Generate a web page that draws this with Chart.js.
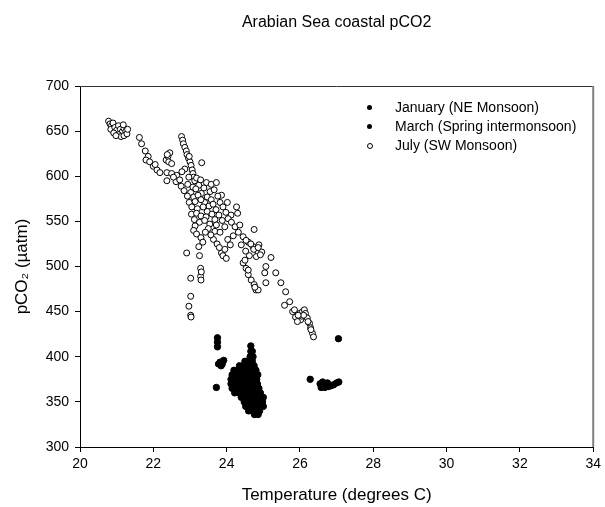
<!DOCTYPE html>
<html>
<head>
<meta charset="utf-8">
<script src="https://cdn.jsdelivr.net/npm/chart.js@4"></script>
<style>
  body { margin: 0; background: #fff; }
  #wrap { position: relative; width: 605px; height: 507px; }
  .legend { position: absolute; left: 365px; top: 98px; font: 14px "Liberation Sans", Arial, sans-serif; color: #000; }
  .legend div { position: relative; height: 19px; line-height: 19px; padding-left: 30px; white-space: nowrap; }
  .dot { position: absolute; left: 2px; top: 7px; width: 5px; height: 5px; border-radius: 50%; background: #000; }
  .dot.open { background: #fff; border: 1px solid #000; width: 4px; height: 4px; }
</style>
</head>
<body>
<div id="wrap">
  <canvas id="chart" width="605" height="507"></canvas>
  <div class="legend">
    <div><span class="dot"></span>January (NE Monsoon)</div>
    <div><span class="dot"></span>March (Spring intermonsoon)</div>
    <div><span class="dot open"></span>July (SW Monsoon)</div>
  </div>
</div>
<script>
const chartTitle = 'Arabian Sea coastal pCO2';

// [temperature, pCO2]
const januaryPoints = [
  [23.75, 421], [23.75, 416], [23.75, 411],
  [23.82, 394], [23.88, 392], [23.92, 396], [23.85, 390], [23.78, 392],
  [23.72, 366],
  [24.66, 412], [24.66, 406], [24.7, 406], [24.64, 400], [24.72, 400],
  [24.5, 395], [24.6, 395], [24.7, 395],
  [24.35, 390], [24.45, 390], [24.55, 390], [24.65, 390], [24.75, 390],
  [24.2, 385], [24.3, 385], [24.4, 385], [24.5, 385], [24.6, 385], [24.7, 385], [24.8, 385],
  [24.15, 380], [24.25, 380], [24.35, 380], [24.45, 380], [24.55, 380], [24.65, 380], [24.75, 380], [24.85, 380],
  [24.12, 375], [24.22, 375], [24.32, 375], [24.42, 375], [24.52, 375], [24.62, 375], [24.72, 375], [24.82, 375],
  [24.12, 370], [24.22, 370], [24.32, 370], [24.42, 370], [24.52, 370], [24.62, 370], [24.72, 370], [24.84, 370],
  [24.15, 365], [24.25, 365], [24.35, 365], [24.45, 365], [24.55, 365], [24.65, 365], [24.75, 365], [24.88, 365],
  [24.22, 360], [24.32, 360], [24.42, 360], [24.52, 360], [24.62, 360], [24.72, 360], [24.82, 360], [24.92, 360],
  [24.4, 355], [24.5, 355], [24.6, 355], [24.7, 355], [24.8, 355], [24.9, 355], [25.0, 355],
  [24.48, 350], [24.58, 350], [24.68, 350], [24.78, 350], [24.88, 350], [24.98, 350],
  [24.52, 345], [24.62, 345], [24.72, 345], [24.82, 345], [24.92, 345], [25.0, 345],
  [24.6, 340], [24.7, 340], [24.8, 340], [24.9, 340],
  [24.76, 336], [24.86, 336]
];

const marchPoints = [
  [27.05, 420], [26.28, 375],
  [26.55, 370], [26.6, 367], [26.62, 372], [26.68, 366], [26.72, 369], [26.78, 367],
  [26.85, 368], [26.92, 369], [27.0, 371], [27.06, 372], [26.58, 366], [26.75, 371]
];

const julyPoints = [
  // top-left cluster
  [20.78, 661], [20.82, 658], [20.86, 656], [20.9, 659], [20.84, 652], [20.95, 654],
  [21.0, 651], [20.92, 648], [21.05, 656], [21.1, 652], [21.15, 649], [21.2, 653],
  [21.25, 650], [21.05, 646], [21.12, 644], [21.2, 645], [21.28, 647], [21.18, 657],
  [20.98, 645], [21.3, 652],
  [21.62, 643], [21.68, 636],
  [21.78, 628], [21.86, 622], [21.8, 618], [21.9, 616], [22.0, 611], [22.1, 607],
  [22.18, 604], [22.05, 613],
  [22.35, 618], [22.4, 622], [22.45, 626], [22.42, 616], [22.5, 614], [22.38, 624],
  // steep line
  [22.77, 644], [22.8, 640], [22.82, 636], [22.86, 632], [22.9, 628], [22.92, 624],
  [22.96, 620], [23.0, 616], [23.03, 612], [23.06, 607], [23.08, 603], [23.1, 599],
  [23.13, 595], [22.98, 622], [23.32, 615], [22.86, 608],
  // band
  [22.37, 604], [22.5, 603], [22.64, 601], [22.78, 605], [22.97, 599], [23.18, 598],
  [23.29, 596], [23.45, 593], [22.37, 595], [22.62, 594], [22.55, 599], [22.72, 596],
  [23.58, 591], [23.72, 593], [23.86, 579], [24.02, 571], [24.27, 566],
  [22.76, 589], [22.94, 591], [23.08, 588], [23.24, 590], [23.38, 587], [23.55, 583],
  [22.84, 584], [23.02, 582], [23.16, 586], [23.31, 581], [23.47, 577], [23.66, 585],
  [22.93, 578], [23.1, 577], [23.22, 579], [23.4, 571], [23.58, 574], [23.76, 578],
  [22.98, 571], [23.14, 572], [23.3, 574], [23.52, 567], [23.63, 569], [23.82, 571],
  [23.05, 566], [23.2, 564], [23.36, 566], [23.47, 561], [23.71, 563], [23.9, 566],
  [23.04, 558], [23.18, 559], [23.3, 556], [23.44, 555], [23.6, 558], [23.79, 557], [23.98, 560], [24.12, 557],
  [23.12, 552], [23.26, 549], [23.4, 551], [23.54, 547], [23.68, 552], [23.88, 551], [24.04, 553],
  [23.14, 545], [23.5, 542], [23.72, 546], [23.95, 544], [24.3, 559], [23.68, 539],
  // left branch
  [23.1, 540], [23.18, 536], [23.3, 532], [23.42, 538], [23.24, 522],
  [23.35, 527], [22.91, 515], [23.64, 530], [23.57, 535], [23.74, 525], [23.82, 538],
  [23.86, 515], [23.9, 512], [23.99, 509], [23.95, 519], [23.8, 521], [23.26, 512],
  // right branch
  [24.13, 549], [24.23, 544], [24.32, 538], [24.45, 533], [24.59, 527], [24.72, 522],
  [24.86, 516], [24.81, 511], [24.36, 546], [24.75, 541], [24.53, 529], [24.66, 525],
  [24.74, 519], [24.88, 524], [24.96, 516], [25.21, 510], [24.18, 534], [24.4, 524],
  [24.52, 517], [24.62, 512], [24.03, 530], [24.1, 524], [24.86, 521], [24.92, 513],
  // lower right
  [24.45, 504], [24.53, 498], [24.59, 491], [24.67, 485], [24.75, 480], [24.8, 474],
  [24.86, 474], [25.04, 493], [25.07, 500], [25.07, 482], [24.5, 507], [24.59, 496],
  [24.77, 477], [25.34, 493], [25.48, 482], [25.61, 472], [25.72, 461], [25.58, 457],
  // column near 23
  [23.29, 498], [23.29, 489], [23.3, 485], [23.02, 487], [23.02, 467], [22.97, 456],
  [23.02, 446], [23.03, 444], [23.31, 494],
  // bottom cluster
  [25.8, 450], [25.88, 444], [25.99, 448], [26.07, 450], [26.12, 452], [26.15, 448],
  [26.2, 443], [26.26, 437], [26.29, 432], [26.34, 426], [26.37, 422], [26.02, 441],
  [25.93, 439], [25.85, 452], [26.05, 445], [26.22, 439], [26.3, 430], [26.1, 446], [25.95, 446]
];

const xRange = [20, 34];
const yRange = [300, 700];

const toXY = pts => pts.map(p => ({ x: p[0], y: p[1] }));

// frame on top and right of the plot, title centred over the plot
const framePlugin = {
  id: 'frame',
  afterDraw(chart) {
    const { ctx, chartArea: a } = chart;
    ctx.save();
    ctx.strokeStyle = '#333';
    ctx.lineWidth = 1;
    ctx.beginPath();
    ctx.moveTo(a.left, a.top + 0.5);
    ctx.lineTo(a.right, a.top + 0.5);
    ctx.stroke();
    ctx.strokeStyle = '#808080';
    ctx.lineWidth = 2;
    ctx.beginPath();
    ctx.moveTo(a.right, a.top);
    ctx.lineTo(a.right, a.bottom);
    ctx.stroke();

    ctx.fillStyle = '#000';
    ctx.font = '16px "Liberation Sans", Arial, sans-serif';
    ctx.textAlign = 'center';
    ctx.textBaseline = 'middle';
    ctx.fillText(chartTitle, (a.left + a.right) / 2, 23);
    ctx.restore();
  }
};

Chart.defaults.font.family = '"Liberation Sans", Arial, sans-serif';
Chart.defaults.color = '#000';

new Chart(document.getElementById('chart'), {
  type: 'scatter',
  data: {
    datasets: [
      { label: 'January (NE Monsoon)', data: toXY(januaryPoints), pointRadius: 3.2, backgroundColor: '#000', borderColor: '#000', borderWidth: 1 },
      { label: 'March (Spring intermonsoon)', data: toXY(marchPoints), pointRadius: 3.2, backgroundColor: '#000', borderColor: '#000', borderWidth: 1 },
      { label: 'July (SW Monsoon)', data: toXY(julyPoints), pointRadius: 3, backgroundColor: '#fff', borderColor: '#000', borderWidth: 1 }
    ]
  },
  options: {
    responsive: false,
    animation: false,
    events: [],
    layout: { padding: { top: 86 } },
    plugins: {
      legend: { display: false },
      tooltip: { enabled: false },
      title: { display: false }
    },
    scales: {
      x: {
        type: 'linear',
        min: xRange[0], max: xRange[1],
        ticks: { stepSize: 2, font: { size: 14 }, padding: 4 },
        grid: { drawOnChartArea: false, tickLength: 5, color: '#000' },
        border: { color: '#000' },
        title: { display: true, text: 'Temperature (degrees C)', font: { size: 17 }, padding: { top: 0, bottom: 1 } },
        afterFit: s => { s.height = 60; }
      },
      y: {
        min: yRange[0], max: yRange[1],
        ticks: { stepSize: 50, font: { size: 14 }, padding: 6 },
        grid: { drawOnChartArea: false, tickLength: 5, color: '#000' },
        border: { color: '#000' },
        title: { display: true, text: 'pCO₂ (µatm)', font: { size: 17 }, padding: { top: 12, bottom: 0 } },
        afterFit: s => { s.width = 80; }
      }
    }
  },
  plugins: [framePlugin]
});
</script>
</body>
</html>
